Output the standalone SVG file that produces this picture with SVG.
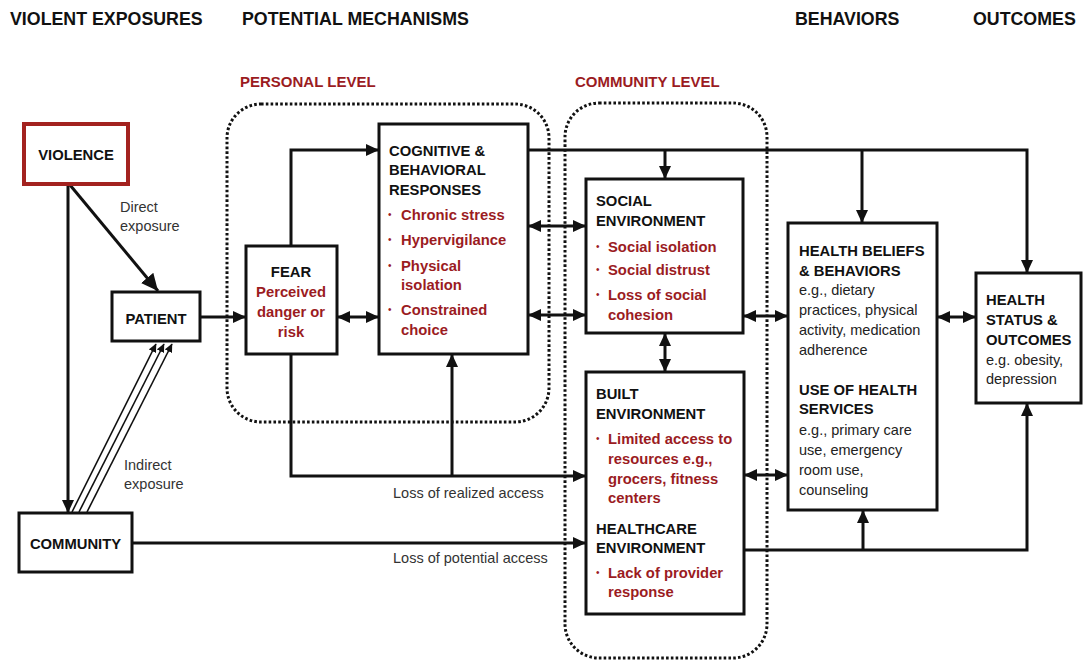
<svg xmlns="http://www.w3.org/2000/svg" width="1085" height="664" viewBox="0 0 1085 664">
<defs>
<style>
text{font-family:"Liberation Sans",Arial,Helvetica,sans-serif;}
.hdr{font-size:17.8px;font-weight:bold;fill:#111;}
.lvl{font-size:15px;font-weight:bold;fill:#9b1c1f;}
.b{font-size:14.8px;font-weight:bold;fill:#111;}
.r{font-size:14.8px;font-weight:bold;fill:#9b1c1f;}
.t{font-size:14.5px;fill:#222;}
.lbl{font-size:14.5px;fill:#333;}
.dot{font-size:10px;fill:#9b1c1f;}
.box{fill:#fff;stroke:#111;stroke-width:3;}
.cont{fill:none;stroke:#111;stroke-width:3;stroke-dasharray:2.6 2.2;}
.ln{fill:none;stroke:#111;stroke-width:3;}
.thin{fill:none;stroke:#111;stroke-width:1.6;}
.c{text-anchor:middle;}
</style>
<marker id="ah" markerUnits="userSpaceOnUse" markerWidth="14" markerHeight="14" refX="13" refY="7" orient="auto-start-reverse" viewBox="0 0 14 14">
<path d="M0,1 L13,7 L0,13 z" fill="#111"/>
</marker>
<marker id="ahb" markerUnits="userSpaceOnUse" markerWidth="18" markerHeight="18" refX="17" refY="9" orient="auto" viewBox="0 0 18 18">
<path d="M0,1 L17,9 L0,17 z" fill="#111"/>
</marker>
<marker id="ahs" markerUnits="userSpaceOnUse" markerWidth="9" markerHeight="9" refX="8" refY="4.5" orient="auto" viewBox="0 0 9 9">
<path d="M0,0.5 L8.5,4.5 L0,8.5 z" fill="#111"/>
</marker>
</defs>
<rect width="1085" height="664" fill="#fff"/>

<g id="headers">
<text class="hdr" x="10" y="25">VIOLENT EXPOSURES</text>
<text class="hdr" x="242" y="25">POTENTIAL MECHANISMS</text>
<text class="hdr" x="795" y="25">BEHAVIORS</text>
<text class="hdr" x="973" y="25">OUTCOMES</text>
</g>

<g id="personal-level">
<rect class="cont" x="227" y="104" width="322" height="318" rx="34"/>
<text class="lvl" x="240" y="87">PERSONAL LEVEL</text>
</g>
<g id="community-level">
<rect class="cont" x="565" y="103" width="202" height="555" rx="34"/>
<text class="lvl" x="575" y="87">COMMUNITY LEVEL</text>
</g>

<g id="connectors">
<line class="ln" x1="70" y1="185" x2="158" y2="291" stroke-width="4.5" marker-end="url(#ahb)"/>
<line class="ln" x1="68" y1="185" x2="68" y2="513" marker-end="url(#ah)"/>
<line class="thin" x1="72" y1="512" x2="156" y2="344" marker-end="url(#ahs)"/>
<line class="thin" x1="79" y1="512" x2="164" y2="344" marker-end="url(#ahs)"/>
<line class="thin" x1="87" y1="512" x2="172" y2="344" marker-end="url(#ahs)"/>
<line class="ln" x1="200" y1="317" x2="246" y2="317" marker-end="url(#ah)"/>
<path class="ln" d="M291,246 V150 H379" marker-end="url(#ah)"/>
<line class="ln" x1="337" y1="317" x2="379" y2="317" marker-start="url(#ah)" marker-end="url(#ah)"/>
<path class="ln" d="M291,354 V476 H586" marker-end="url(#ah)"/>
<line class="ln" x1="452" y1="476" x2="452" y2="354" marker-end="url(#ah)"/>
<line class="ln" x1="132" y1="543" x2="586" y2="543" marker-end="url(#ah)"/>
<path class="ln" d="M528,150 H1027 V273" marker-end="url(#ah)"/>
<line class="ln" x1="665" y1="150" x2="665" y2="179" marker-end="url(#ah)"/>
<line class="ln" x1="862" y1="150" x2="862" y2="223" marker-end="url(#ah)"/>
<line class="ln" x1="528" y1="226" x2="586" y2="226" marker-start="url(#ah)" marker-end="url(#ah)"/>
<line class="ln" x1="528" y1="315" x2="586" y2="315" marker-start="url(#ah)" marker-end="url(#ah)"/>
<line class="ln" x1="665" y1="333" x2="665" y2="372" marker-start="url(#ah)" marker-end="url(#ah)"/>
<line class="ln" x1="743" y1="316" x2="788" y2="316" marker-start="url(#ah)" marker-end="url(#ah)"/>
<line class="ln" x1="744" y1="475" x2="788" y2="475" marker-start="url(#ah)" marker-end="url(#ah)"/>
<line class="ln" x1="937" y1="317" x2="976" y2="317" marker-start="url(#ah)" marker-end="url(#ah)"/>
<path class="ln" d="M744,550 H1027 V403" marker-end="url(#ah)"/>
<line class="ln" x1="863" y1="550" x2="863" y2="510" marker-end="url(#ah)"/>
<text class="lbl" x="120" y="212">Direct</text>
<text class="lbl" x="120" y="231">exposure</text>
<text class="lbl" x="124" y="470">Indirect</text>
<text class="lbl" x="124" y="489">exposure</text>
<text class="lbl" x="393" y="498">Loss of realized access</text>
<text class="lbl" x="393" y="563">Loss of potential access</text>
</g>

<g id="violence">
<rect x="24" y="124" width="104" height="60" fill="#fff" stroke="#a3221f" stroke-width="4"/>
<text class="b c" x="76" y="160">VIOLENCE</text>
</g>

<g id="patient">
<rect class="box" x="112" y="292" width="88" height="49"/>
<text class="b c" x="156" y="324">PATIENT</text>
</g>

<g id="community">
<rect class="box" x="19" y="513" width="113" height="59"/>
<text class="b c" x="75.5" y="549">COMMUNITY</text>
</g>

<g id="fear">
<rect class="box" x="246" y="246" width="91" height="108"/>
<text class="b c" x="291" y="277">FEAR</text>
<text class="r c" x="291" y="297">Perceived</text>
<text class="r c" x="291" y="317">danger or</text>
<text class="r c" x="291" y="337">risk</text>
</g>

<g id="cognitive">
<rect class="box" x="379" y="124" width="149" height="230"/>
<text class="b" x="389" y="156">COGNITIVE &amp;</text>
<text class="b" x="389" y="175">BEHAVIORAL</text>
<text class="b" x="389" y="195">RESPONSES</text>
<text class="dot" x="388" y="218">•</text><text class="r" x="401" y="220">Chronic stress</text>
<text class="dot" x="388" y="243">•</text><text class="r" x="401" y="245">Hypervigilance</text>
<text class="dot" x="388" y="269">•</text><text class="r" x="401" y="271">Physical</text>
<text class="r" x="401" y="290">isolation</text>
<text class="dot" x="388" y="313">•</text><text class="r" x="401" y="315">Constrained</text>
<text class="r" x="401" y="335">choice</text>
</g>

<g id="social">
<rect class="box" x="586" y="179" width="157" height="154"/>
<text class="b" x="596" y="206">SOCIAL</text>
<text class="b" x="596" y="226">ENVIRONMENT</text>
<text class="dot" x="596" y="250">•</text><text class="r" x="608" y="252">Social isolation</text>
<text class="dot" x="596" y="273">•</text><text class="r" x="608" y="275">Social distrust</text>
<text class="dot" x="596" y="298">•</text><text class="r" x="608" y="300">Loss of social</text>
<text class="r" x="608" y="320">cohesion</text>
</g>

<g id="built">
<rect class="box" x="586" y="372" width="158" height="242"/>
<text class="b" x="596" y="399">BUILT</text>
<text class="b" x="596" y="419">ENVIRONMENT</text>
<text class="dot" x="596" y="442">•</text><text class="r" x="608" y="444">Limited access to</text>
<text class="r" x="608" y="464">resources e.g.,</text>
<text class="r" x="608" y="484">grocers, fitness</text>
<text class="r" x="608" y="503">centers</text>
<text class="b" x="596" y="534">HEALTHCARE</text>
<text class="b" x="596" y="553">ENVIRONMENT</text>
<text class="dot" x="596" y="576">•</text><text class="r" x="608" y="578">Lack of provider</text>
<text class="r" x="608" y="597">response</text>
</g>

<g id="health-beliefs">
<rect class="box" x="788" y="223" width="149" height="287"/>
<text class="b" x="799" y="256">HEALTH BELIEFS</text>
<text class="b" x="799" y="276">&amp; BEHAVIORS</text>
<text class="t" x="799" y="295">e.g., dietary</text>
<text class="t" x="799" y="315">practices, physical</text>
<text class="t" x="799" y="335">activity, medication</text>
<text class="t" x="799" y="355">adherence</text>
<text class="b" x="799" y="395">USE OF HEALTH</text>
<text class="b" x="799" y="414">SERVICES</text>
<text class="t" x="799" y="435">e.g., primary care</text>
<text class="t" x="799" y="455">use, emergency</text>
<text class="t" x="799" y="475">room use,</text>
<text class="t" x="799" y="495">counseling</text>
</g>

<g id="health-status">
<rect class="box" x="976" y="273" width="105" height="130"/>
<text class="b" x="986" y="305">HEALTH</text>
<text class="b" x="986" y="325">STATUS &amp;</text>
<text class="b" x="986" y="345">OUTCOMES</text>
<text class="t" x="986" y="365">e.g. obesity,</text>
<text class="t" x="986" y="384">depression</text>
</g>
</svg>
